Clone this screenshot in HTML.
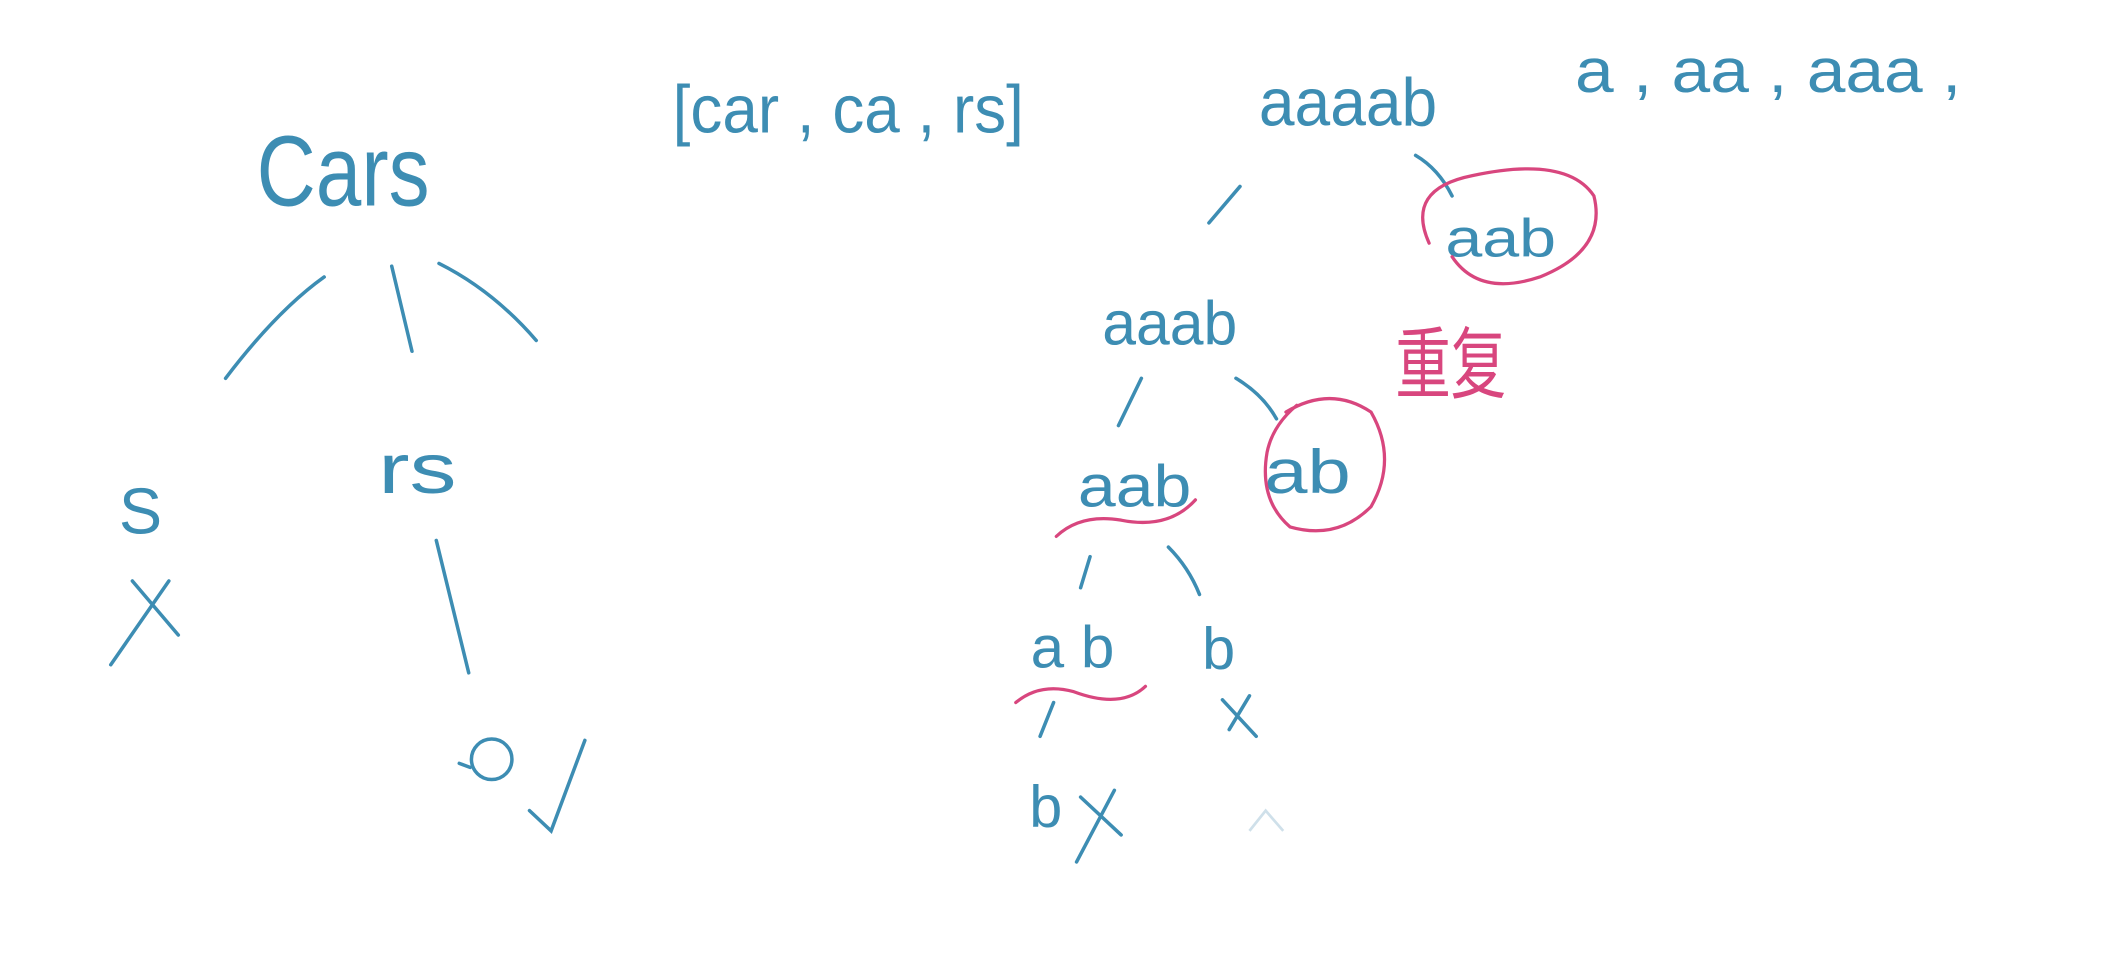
<!DOCTYPE html>
<html><head><meta charset="utf-8">
<style>
html,body{margin:0;padding:0;background:#fff;}
svg{display:block}
text{font-family:"Liberation Sans","Noto Sans CJK SC",sans-serif;font-weight:normal}
.b{fill:#3d8db3}
.p{fill:#d8467e}
.sb{stroke:#3d8db3;stroke-width:2.6;fill:none;stroke-linecap:round}
.sp{stroke:#d8467e;stroke-width:2.4;fill:none;stroke-linecap:round}
</style></head>
<body>
<svg width="2118" height="966" viewBox="0 0 1568 715" preserveAspectRatio="none" xmlns="http://www.w3.org/2000/svg">
<rect width="1568" height="715" fill="#fff"/>
<!-- left tree -->
<text class="b" x="190" y="152" font-size="74" textLength="128" lengthAdjust="spacingAndGlyphs" font-weight="100" style="font-weight:100">Cars</text>
<path class="sb" d="M167,280 Q205,230 240,205"/>
<path class="sb" d="M290,197 L305,260"/>
<path class="sb" d="M325,195 Q365,215 397,252"/>
<text class="b" x="88" y="395" font-size="48">S</text>
<path class="sb" d="M98,430 L132,470 M125,430 L82,492"/>
<text class="b" x="280" y="365" font-size="52" textLength="58" lengthAdjust="spacingAndGlyphs">rs</text>
<path class="sb" d="M323,400 L347,498"/>
<circle class="sb" cx="364" cy="562" r="15"/>
<path class="sb" d="M340,565 L348,568 M392,600 L408,615 L433,548"/>
<!-- middle -->
<text class="b" x="498" y="98" font-size="50" textLength="260" lengthAdjust="spacingAndGlyphs">[car , ca , rs]</text>
<!-- right tree -->
<text class="b" x="932" y="93" font-size="50" textLength="132" lengthAdjust="spacingAndGlyphs">aaaab</text>
<text class="b" x="1166" y="68" font-size="46" textLength="286" lengthAdjust="spacingAndGlyphs">a , aa , aaa ,</text>
<path class="sb" d="M895,165 L918,138"/>
<path class="sb" d="M1048,115 Q1065,125 1075,145"/>
<text class="b" x="1070" y="190" font-size="40" textLength="82" lengthAdjust="spacingAndGlyphs">aab</text>
<path class="sp" d="M1058,180 Q1040,140 1090,130 Q1160,115 1180,145 Q1190,185 1140,205 Q1095,220 1075,190"/>
<text class="b" x="816" y="255" font-size="46" textLength="100" lengthAdjust="spacingAndGlyphs">aaab</text>
<text class="p" x="1033" y="290" font-size="58" textLength="82" lengthAdjust="spacingAndGlyphs">重复</text>
<path class="sb" d="M828,315 L845,280"/>
<path class="sb" d="M915,280 Q935,292 945,310"/>
<text class="b" x="798" y="375" font-size="44" textLength="84" lengthAdjust="spacingAndGlyphs">aab</text>
<path class="sp" d="M782,397 Q800,380 830,385 Q865,392 885,370"/>
<text class="b" x="936" y="365" font-size="46" textLength="64" lengthAdjust="spacingAndGlyphs">ab</text>
<path class="sp" d="M952,305 Q985,285 1015,305 Q1035,340 1015,375 Q990,400 955,390 Q932,370 938,335 Q942,315 960,300"/>
<path class="sb" d="M800,435 L807,412"/>
<path class="sb" d="M865,405 Q880,420 888,440"/>
<text class="b" x="763" y="494" font-size="44" textLength="62" lengthAdjust="spacingAndGlyphs">a b</text>
<text class="b" x="890" y="495" font-size="44">b</text>
<path class="sp" d="M752,520 Q770,505 795,512 Q830,525 848,508"/>
<path class="sb" d="M770,545 L780,520"/>
<path class="sb" d="M905,518 L930,545 M925,515 L910,540"/>
<text class="b" x="762" y="612" font-size="44">b</text>
<path class="sb" d="M800,590 L830,618 M825,585 L797,638"/>
<path d="M925,615 L937,600 L950,615" stroke="#cfe0ea" stroke-width="2" fill="none"/>
</svg>
</body></html>
